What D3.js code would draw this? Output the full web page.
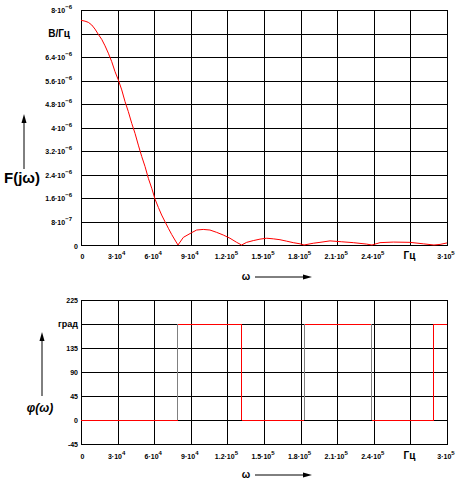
<!DOCTYPE html>
<html>
<head>
<meta charset="utf-8">
<script src="https://cdn.jsdelivr.net/npm/d3@7"></script>
<style>
  body { margin: 0; background: #fff; }
  svg { font-family: "Liberation Sans", Arial, sans-serif; font-weight: bold; }
</style>
</head>
<body>
<div id="chart"></div>
<script>
// frequency axis (Hz) and its tick labels
const xTicks = [0, 3e4, 6e4, 9e4, 1.2e5, 1.5e5, 1.8e5, 2.1e5, 2.4e5, 2.7e5, 3e5];
const xTickLabels = ["0", "3·10^4", "6·10^4", "9·10^4", "1.2·10^5", "1.5·10^5",
                     "1.8·10^5", "2.1·10^5", "2.4·10^5", "Гц", "3·10^5"];

// amplitude spectrum |F(jw)|, V/Hz
const ampTicks = [0, 8e-7, 1.6e-6, 2.4e-6, 3.2e-6, 4e-6, 4.8e-6, 5.6e-6, 6.4e-6, 7.2e-6, 8e-6];
const ampTickLabels = ["0", "8·10^−7", "1.6·10^−6", "2.4·10^−6", "3.2·10^−6", "4·10^−6",
                       "4.8·10^−6", "5.6·10^−6", "6.4·10^−6", "В/Гц", "8·10^−6"];

const omega = [0, 3.3e3, 6.0e3, 8.8e3, 11.5e3, 14.2e3, 17.0e3, 19.7e3, 22.4e3, 25.2e3,
  27.9e3, 30.6e3, 33.4e3, 36.1e3, 38.8e3, 41.6e3, 44.3e3, 47.0e3, 49.8e3, 52.5e3,
  55.2e3, 58.0e3, 60.7e3, 63.4e3, 66.1e3, 68.9e3, 71.6e3, 74.3e3, 77.0e3, 79.5e3,
  83.9e3, 90.7e3, 94.8e3, 100.2e3, 105.7e3, 111.2e3, 116.6e3, 122.1e3, 127.6e3, 131.6e3,
  135.8e3, 141.2e3, 146.7e3, 152.2e3, 157.6e3, 163.1e3, 168.6e3, 174.0e3, 179.5e3, 182.8e3,
  190.4e3, 195.9e3, 204.1e3, 213.7e3, 223.2e3, 234.2e3, 238.5e3,
  245.1e3, 256.0e3, 269.7e3, 280.6e3, 289.3e3, 294.3e3, 300e3];
const amp = [7.65e-6, 7.62e-6, 7.58e-6, 7.49e-6, 7.35e-6, 7.17e-6, 7.00e-6, 6.78e-6, 6.53e-6, 6.24e-6,
  5.90e-6, 5.62e-6, 5.28e-6, 4.88e-6, 4.54e-6, 4.14e-6, 3.80e-6, 3.40e-6, 3.01e-6, 2.67e-6,
  2.27e-6, 1.93e-6, 1.56e-6, 1.28e-6, 1.02e-6, 0.79e-6, 0.57e-6, 0.36e-6, 0.17e-6, 0,
  0.26e-6, 0.42e-6, 0.51e-6, 0.53e-6, 0.51e-6, 0.43e-6, 0.34e-6, 0.23e-6, 0.09e-6, 0,
  0.09e-6, 0.15e-6, 0.20e-6, 0.23e-6, 0.21e-6, 0.18e-6, 0.13e-6, 0.08e-6, 0.04e-6, 0,
  0.06e-6, 0.09e-6, 0.14e-6, 0.11e-6, 0.08e-6, 0.03e-6, 0,
  0.08e-6, 0.10e-6, 0.09e-6, 0.04e-6, 0, 0.02e-6, 0.07e-6];

// phase spectrum, degrees
const phaseTicks = [-45, 0, 45, 90, 135, 180, 225];
const phaseTickLabels = ["-45", "0", "45", "90", "135", "град", "225"];
const phaseBreaks = [0, 79.5e3, 131.6e3, 182.8e3, 238.5e3, 289.3e3, 3e5];
const phaseLevels = [0, 180, 0, 180, 0, 180];

const width = 465, height = 488;
const svg = d3.select("#chart").append("svg")
  .attr("width", width)
  .attr("height", height);

const x = d3.scaleLinear().domain([0, 3e5]).range([81, 447]);
const yAmp = d3.scaleLinear().domain([0, 8e-6]).range([245, 10]);
const yPh = d3.scaleLinear().domain([-45, 225]).range([444, 300]);

// mantissa + raised exponent
function sci(text, s, supSize) {
  const [m, e] = s.split("^");
  text.append("tspan").text(m);
  if (e) text.append("tspan").attr("dy", -4).attr("font-size", supSize).text(e);
}

function grid(g, y, top, bottom) {
  g.append("g")
    .attr("transform", "translate(0," + bottom + ")")
    .call(d3.axisBottom(x).tickValues(xTicks).tickSize(-(bottom - top)).tickSizeOuter(0).tickFormat(""))
    .call(a => a.selectAll("line,path").attr("stroke", "#000").attr("shape-rendering", "crispEdges"));
  g.append("g")
    .attr("transform", "translate(" + x.range()[0] + ",0)")
    .call(d3.axisLeft(y).tickValues(y === yAmp ? ampTicks : phaseTicks)
      .tickSize(-(x.range()[1] - x.range()[0])).tickSizeOuter(0).tickFormat(""))
    .call(a => a.selectAll("line,path").attr("stroke", "#000").attr("shape-rendering", "crispEdges"));
}

function xLabels(g, yPos) {
  xTicks.forEach((v, i) => {
    const lab = xTickLabels[i];
    const t = g.append("text")
      .attr("x", x(v) + (i === 0 ? 1.5 : -1))
      .attr("y", yPos)
      .attr("text-anchor", "middle")
      .attr("font-size", lab === "Гц" ? 10 : 7);
    sci(t, lab, 6);
  });
}

function omegaArrow(yPos) {
  svg.append("text").attr("x", 246).attr("y", yPos + 3)
    .attr("text-anchor", "middle").attr("font-size", 10).text("ω");
  svg.append("line").attr("x1", 255).attr("x2", 304).attr("y1", yPos).attr("y2", yPos)
    .attr("stroke", "#000");
  svg.append("path").attr("d", `M303,${yPos - 2.5}L312,${yPos}L303,${yPos + 2.5}Z`).attr("fill", "#000");
}

function upArrow(xPos, y1, y2) {
  svg.append("line").attr("x1", xPos).attr("x2", xPos).attr("y1", y1).attr("y2", y2 + 8)
    .attr("stroke", "#000");
  svg.append("path").attr("d", `M${xPos - 2.5},${y2 + 9}L${xPos},${y2}L${xPos + 2.5},${y2 + 9}Z`).attr("fill", "#000");
}

// ---- amplitude spectrum
const gA = svg.append("g");
grid(gA, yAmp, 10, 245);

gA.append("path")
  .datum(omega.map((w, i) => [w, amp[i]]))
  .attr("fill", "none")
  .attr("stroke", "#ff0000")
  .attr("stroke-width", 1)
  .attr("d", d3.line().x(d => x(d[0])).y(d => yAmp(d[1])));

ampTicks.forEach((v, i) => {
  const lab = ampTickLabels[i];
  const t = gA.append("text")
    .attr("x", lab === "0" ? 78 : (lab === "В/Гц" ? 70 : 72))
    .attr("y", yAmp(v) + (lab === "0" ? 4 : 3))
    .attr("text-anchor", "end")
    .attr("font-size", lab === "В/Гц" ? 10 : 7);
  sci(t, lab, 6);
});
xLabels(gA, 259);
omegaArrow(277);

svg.append("text").attr("x", 22).attr("y", 183).attr("text-anchor", "middle")
  .attr("font-size", 15).text("F(jω)");
upArrow(24, 169, 114);

// ---- phase spectrum
const gP = svg.append("g");
grid(gP, yPh, 300, 444);

phaseLevels.forEach((lvl, i) => {
  gP.append("line")
    .attr("x1", x(phaseBreaks[i])).attr("x2", x(phaseBreaks[i + 1]))
    .attr("y1", yPh(lvl)).attr("y2", yPh(lvl))
    .attr("stroke", "#ff0000").attr("shape-rendering", "crispEdges");
  if (i > 0) {
    gP.append("line")
      .attr("x1", x(phaseBreaks[i])).attr("x2", x(phaseBreaks[i]))
      .attr("y1", yPh(phaseLevels[i - 1])).attr("y2", yPh(lvl))
      .attr("stroke", (i === 2 || i === 5) ? "#ff0000" : "#808080")
      .attr("shape-rendering", "crispEdges");
  }
});

phaseTicks.forEach((v, i) => {
  gP.append("text")
    .attr("x", 78)
    .attr("y", yPh(v) + 3)
    .attr("text-anchor", "end")
    .attr("font-size", phaseTickLabels[i] === "град" ? 9 : 7)
    .text(phaseTickLabels[i]);
});
xLabels(gP, 459);
omegaArrow(475);

svg.append("text").attr("x", 40).attr("y", 412).attr("text-anchor", "middle")
  .attr("font-size", 12).attr("font-style", "italic").text("φ(ω)");
upArrow(42, 396, 332);
</script>
</body>
</html>
